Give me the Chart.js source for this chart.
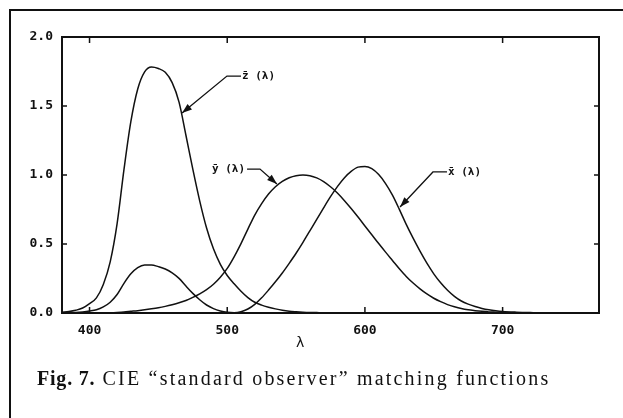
<!DOCTYPE html>
<html>
<head>
<meta charset="utf-8">
<script src="https://cdn.jsdelivr.net/npm/chart.js@4"></script>
<style>
  html, body { margin: 0; padding: 0; background: #fff; }
  #wrap { position: relative; width: 623px; height: 418px; overflow: hidden; }
  #frame { position: absolute; left: 9px; top: 9px; width: 700px; height: 500px;
           border-left: 2px solid #111; border-top: 2px solid #111; }
  #caption { position: absolute; left: 37px; top: 367px; color: #111; white-space: nowrap;
             font-family: "Liberation Serif", serif; font-size: 20px; letter-spacing: 2.2px; }
  #caption b { letter-spacing: 0.8px; }
  canvas { position: absolute; left: 0; top: 0; }
</style>
</head>
<body>
<div id="wrap">
  <div id="frame"></div>
  <canvas id="cieChart" width="623" height="418"></canvas>
  <div id="caption"><b>Fig. 7.</b> CIE “standard observer” matching functions</div>
</div>
<script>
// wavelength (nm) and the three matching functions
const wavelengths = [380, 385, 390, 395, 400, 405, 410, 415, 420, 425, 430, 435, 440, 445, 450, 455, 460, 465, 470, 475,
                     480, 485, 490, 495, 500, 505, 510, 515, 520, 525, 530, 535, 540, 545, 550, 555, 560, 565, 570, 575,
                     580, 585, 590, 595, 600, 605, 610, 615, 620, 625, 630, 635, 640, 645, 650, 655, 660, 665, 670, 675,
                     680, 685, 690, 695, 700, 710, 720, 730, 740, 750, 760, 770];
const xBar = [0.001, 0.002, 0.004, 0.008, 0.014, 0.023, 0.044, 0.078, 0.134, 0.215, 0.284, 0.329, 0.348, 0.348, 0.336, 0.319, 0.291, 0.251, 0.195, 0.142,
              0.096, 0.058, 0.032, 0.015, 0.005, 0.002, 0.009, 0.029, 0.063, 0.110, 0.166, 0.226, 0.290, 0.360, 0.433, 0.512, 0.595, 0.678, 0.762, 0.843,
              0.916, 0.979, 1.026, 1.057, 1.062, 1.046, 1.003, 0.938, 0.854, 0.751, 0.642, 0.542, 0.448, 0.361, 0.284, 0.219, 0.165, 0.121, 0.087, 0.064,
              0.047, 0.033, 0.023, 0.016, 0.011, 0.006, 0.003, 0.001, 0.001, 0, 0, 0];
const yBar = [0, 0, 0, 0, 0, 0.001, 0.001, 0.002, 0.004, 0.007, 0.012, 0.017, 0.023, 0.030, 0.038, 0.048, 0.060, 0.074, 0.091, 0.113,
              0.139, 0.169, 0.208, 0.259, 0.323, 0.407, 0.503, 0.608, 0.710, 0.793, 0.862, 0.915, 0.954, 0.980, 0.995, 1.000, 0.995, 0.979, 0.952, 0.915,
              0.870, 0.816, 0.757, 0.695, 0.631, 0.567, 0.503, 0.441, 0.381, 0.321, 0.265, 0.217, 0.175, 0.138, 0.107, 0.082, 0.061, 0.045, 0.032, 0.023,
              0.017, 0.012, 0.008, 0.006, 0.004, 0.002, 0.001, 0.001, 0, 0, 0, 0];
const zBar = [0.006, 0.011, 0.020, 0.036, 0.068, 0.110, 0.207, 0.371, 0.646, 1.039, 1.386, 1.623, 1.747, 1.783, 1.772, 1.744, 1.669, 1.528, 1.288, 1.042,
              0.813, 0.616, 0.465, 0.353, 0.272, 0.212, 0.158, 0.112, 0.078, 0.057, 0.042, 0.030, 0.020, 0.013, 0.009, 0.006, 0.004, 0.003, 0.002, 0.002,
              0.002, 0.001, 0.001, 0.001, 0.001, 0.001, 0, 0, 0, 0, 0, 0, 0, 0, 0, 0, 0, 0, 0, 0,
              0, 0, 0, 0, 0, 0, 0, 0, 0, 0, 0, 0];

const xTicks = [400, 500, 600, 700];
const xTickLabels = ['400', '500', '600', '700'];
const yTicks = [0, 0.5, 1.0, 1.5, 2.0];
const yTickLabels = ['0.0', '0.5', '1.0', '1.5', '2.0'];

// curve labels with their arrows (start of the leader, elbow, arrow tip) in data units
const annoLabels = ['z\u0304 (\u03bb)', 'y\u0304 (\u03bb)', 'x\u0304 (\u03bb)'];
const annoStart = [[510.0, 1.717], [514.4, 1.043], [659.6, 1.022]];
const annoElbow = [[499.8, 1.717], [523.8, 1.043], [649.4, 1.022]];
const annoTip = [[467.2, 1.449], [536.1, 0.935], [625.5, 0.768]];
const annoAlign = ['left', 'right', 'left'];

const ink = '#111';

function toPoints(values) {
    return wavelengths.map((w, i) => ({x: w, y: values[i]}));
}

// box, inward ticks, curve labels and the axis letter
const plotDecor = {
    id: 'plotDecor',
    afterDatasetsDraw(chart) {
        const {ctx, chartArea: a, scales: {x, y}} = chart;
        ctx.save();
        ctx.strokeStyle = ink;
        ctx.fillStyle = ink;
        ctx.lineWidth = 2;
        ctx.strokeRect(a.left, a.top, a.right - a.left, a.bottom - a.top);

        ctx.lineWidth = 1.5;
        ctx.beginPath();
        xTicks.forEach(v => {
            const px = x.getPixelForValue(v);
            ctx.moveTo(px, a.bottom); ctx.lineTo(px, a.bottom - 6);
            ctx.moveTo(px, a.top); ctx.lineTo(px, a.top + 6);
        });
        yTicks.forEach(v => {
            const py = y.getPixelForValue(v);
            ctx.moveTo(a.left, py); ctx.lineTo(a.left + 5, py);
            ctx.moveTo(a.right, py); ctx.lineTo(a.right - 5, py);
        });
        ctx.stroke();

        ctx.font = 'bold 11px "DejaVu Sans Mono"';
        ctx.textBaseline = 'middle';
        annoLabels.forEach((label, i) => {
            const sx = x.getPixelForValue(annoStart[i][0]), sy = y.getPixelForValue(annoStart[i][1]);
            const ex = x.getPixelForValue(annoElbow[i][0]), ey = y.getPixelForValue(annoElbow[i][1]);
            const tx = x.getPixelForValue(annoTip[i][0]), ty = y.getPixelForValue(annoTip[i][1]);
            ctx.lineWidth = 1.3;
            ctx.beginPath();
            ctx.moveTo(sx, sy); ctx.lineTo(ex, ey); ctx.lineTo(tx, ty);
            ctx.stroke();
            const ang = Math.atan2(ty - ey, tx - ex);
            ctx.beginPath();
            ctx.moveTo(tx, ty);
            ctx.lineTo(tx - 10 * Math.cos(ang) + 3.5 * Math.sin(ang), ty - 10 * Math.sin(ang) - 3.5 * Math.cos(ang));
            ctx.lineTo(tx - 10 * Math.cos(ang) - 3.5 * Math.sin(ang), ty - 10 * Math.sin(ang) + 3.5 * Math.cos(ang));
            ctx.closePath();
            ctx.fill();
            ctx.textAlign = annoAlign[i];
            ctx.fillText(label, sx + (annoAlign[i] === 'left' ? 1 : -2), sy);
        });

        ctx.font = '14px "DejaVu Sans"';
        ctx.textAlign = 'center';
        ctx.fillText('\u03bb', x.getPixelForValue(553), a.bottom + 30);
        ctx.restore();
    }
};

const tickFont = {family: 'DejaVu Sans Mono', weight: 'bold', size: 13};

new Chart(document.getElementById('cieChart'), {
    type: 'line',
    data: {
        datasets: [
            {label: 'z', data: toPoints(zBar)},
            {label: 'y', data: toPoints(yBar)},
            {label: 'x', data: toPoints(xBar)}
        ]
    },
    options: {
        responsive: false,
        animation: false,
        layout: {padding: {top: 37, right: 24, left: 0, bottom: 0}},
        plugins: {legend: {display: false}, tooltip: {enabled: false}},
        elements: {
            point: {radius: 0},
            line: {borderWidth: 1.5, borderColor: ink, cubicInterpolationMode: 'monotone', fill: false}
        },
        scales: {
            x: {
                type: 'linear', min: 380, max: 770,
                afterBuildTicks: s => { s.ticks = xTicks.map(v => ({value: v})); },
                afterFit: s => { s.height = 105; },
                grid: {display: false, drawTicks: false},
                border: {display: false},
                ticks: {padding: 10, color: ink, font: tickFont, maxRotation: 0,
                        callback: (v, i) => xTickLabels[i]}
            },
            y: {
                min: 0, max: 2,
                afterBuildTicks: s => { s.ticks = yTicks.map(v => ({value: v})); },
                afterFit: s => { s.width = 62; },
                grid: {display: false, drawTicks: false},
                border: {display: false},
                ticks: {padding: 9, color: ink, font: tickFont,
                        callback: (v, i) => yTickLabels[i]}
            }
        }
    },
    plugins: [plotDecor]
});
</script>
</body>
</html>
